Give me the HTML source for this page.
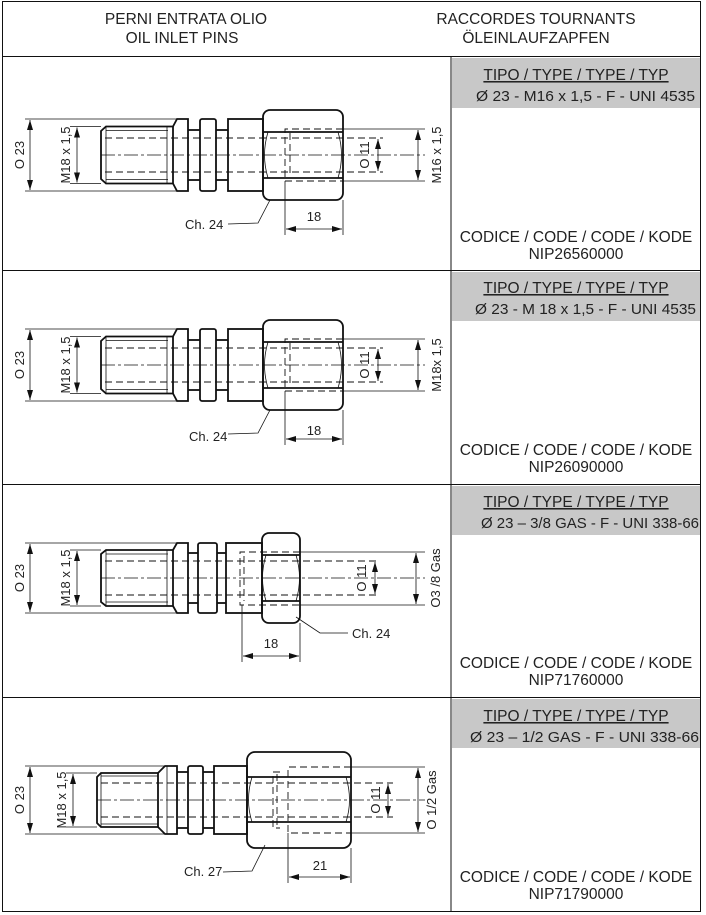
<!DOCTYPE html>
<html><head><meta charset="utf-8"><style>
html,body{margin:0;padding:0;background:#fff}
svg{display:block}
text{font-family:"Liberation Sans",Arial,sans-serif;fill:#222}
.k{stroke:#111;stroke-width:1.8;fill:none}
.t{stroke:#111;stroke-width:0.8;fill:none}
.d{stroke:#111;stroke-width:0.9;fill:none;stroke-dasharray:7 4}
.c{stroke:#111;stroke-width:0.8;fill:none;stroke-dasharray:14 3 3 3}
</style></head><body>
<svg width="706" height="915" viewBox="0 0 706 915" xmlns="http://www.w3.org/2000/svg">
<defs>
<marker id="a" viewBox="0 0 10 6" refX="10" refY="3" markerWidth="10" markerHeight="6" orient="auto-start-reverse" markerUnits="userSpaceOnUse">
<path d="M0,0 L10,3 L0,6 z" fill="#111"/></marker>
<g id="fa">
<line class="t" x1="25" y1="-36" x2="177" y2="-36"/><line class="t" x1="25" y1="36" x2="177" y2="36"/>
<line class="t" x1="70" y1="-28.5" x2="101" y2="-28.5"/><line class="t" x1="70" y1="28.5" x2="101" y2="28.5"/>
<line class="t" x1="30" y1="-35" x2="30" y2="35" marker-start="url(#a)" marker-end="url(#a)"/>
<line class="t" x1="77" y1="-27.5" x2="77" y2="27.5" marker-start="url(#a)" marker-end="url(#a)"/>
<path class="k" d="M106,-28.5 L173,-28.5 L173,28.5 L106,28.5 L101,24 L101,-24 Z"/>
<line class="t" x1="106" y1="-24.5" x2="168" y2="-24.5"/><line class="t" x1="106" y1="24.5" x2="168" y2="24.5"/>
<line class="t" x1="106" y1="-28" x2="106" y2="28"/><line class="t" x1="167" y1="-28" x2="167" y2="28"/>
<path class="k" d="M173,-28.5 L177,-36 L188,-36 L188,36 L177,36 L173,28.5"/>
<line class="k" x1="188" y1="-25" x2="200" y2="-25"/><line class="k" x1="188" y1="25" x2="200" y2="25"/>
<rect class="k" x="200" y="-36" width="16" height="72" rx="2"/>
<line class="k" x1="216" y1="-25" x2="228" y2="-25"/><line class="k" x1="216" y1="25" x2="228" y2="25"/>
<rect class="k" x="228" y="-36" width="35" height="72"/>
<rect class="k" x="263" y="-45" width="80" height="90" rx="7"/>
<path class="k" d="M263,-23 L343,-23 M263,23 L343,23"/>
<path class="t" d="M268,-23 Q261,0 268,23 M338,-23 Q345,0 338,23"/>
<path class="d" d="M343,-26 L285,-26 L285,26 L343,26 M290,-22 L290,22"/>
<line class="d" x1="105" y1="-17" x2="383" y2="-17"/><line class="d" x1="105" y1="17" x2="383" y2="17"/>
<line class="c" x1="101" y1="0" x2="425" y2="0"/>
<line class="t" x1="343" y1="-26" x2="425" y2="-26"/><line class="t" x1="343" y1="26" x2="425" y2="26"/>
<line class="t" x1="378" y1="-16" x2="378" y2="16" marker-start="url(#a)" marker-end="url(#a)"/>
<line class="t" x1="418" y1="-25" x2="418" y2="25" marker-start="url(#a)" marker-end="url(#a)"/>
<line class="t" x1="285" y1="26" x2="285" y2="80"/><line class="t" x1="343" y1="45" x2="343" y2="80"/>
<line class="t" x1="286" y1="74" x2="342" y2="74" marker-start="url(#a)" marker-end="url(#a)"/>
<path class="t" d="M228,69 L258,68 L270,45"/>
</g>
</defs>

<rect x="2.5" y="1.5" width="698" height="910" fill="none" stroke="#111" stroke-width="1"/>
<line x1="451" y1="56" x2="451" y2="912" stroke="#111"/>
<line x1="2" y1="56.5" x2="701" y2="56.5" stroke="#111"/>
<line x1="2" y1="270.5" x2="701" y2="270.5" stroke="#111"/>
<line x1="2" y1="484.5" x2="701" y2="484.5" stroke="#111"/>
<line x1="2" y1="697.5" x2="701" y2="697.5" stroke="#111"/>
<rect x="452" y="58" width="248" height="50" fill="#c8c8c8"/>
<rect x="452" y="272" width="248" height="49" fill="#c8c8c8"/>
<rect x="452" y="486" width="248" height="49" fill="#c8c8c8"/>
<rect x="452" y="699" width="248" height="49" fill="#c8c8c8"/>

<g font-size="15.5" text-anchor="middle">
<text x="186" y="24">PERNI ENTRATA OLIO</text><text x="182" y="43">OIL INLET PINS</text>
<text x="536" y="24">RACCORDES TOURNANTS</text><text x="536" y="43">ÖLEINLAUFZAPFEN</text>
</g>
<g font-size="15.5" text-anchor="middle">
<text x="576" y="80" text-decoration="underline">TIPO / TYPE / TYPE / TYP</text>
<text x="576" y="242">CODICE / CODE / CODE / KODE</text><text x="576" y="259">NIP26560000</text>
<text x="576" y="293" text-decoration="underline">TIPO / TYPE / TYPE / TYP</text>
<text x="576" y="455">CODICE / CODE / CODE / KODE</text><text x="576" y="472">NIP26090000</text>
<text x="576" y="507" text-decoration="underline">TIPO / TYPE / TYPE / TYP</text>
<text x="576" y="668">CODICE / CODE / CODE / KODE</text><text x="576" y="685">NIP71760000</text>
<text x="576" y="721" text-decoration="underline">TIPO / TYPE / TYPE / TYP</text>
<text x="576" y="882">CODICE / CODE / CODE / KODE</text><text x="576" y="899">NIP71790000</text>
</g>
<g font-size="15">
<text x="476" y="101" textLength="219" lengthAdjust="spacingAndGlyphs">Ø 23 - M16 x 1,5 - F - UNI 4535</text>
<text x="475" y="314" textLength="221" lengthAdjust="spacingAndGlyphs">Ø 23 - M 18 x 1,5 - F - UNI 4535</text>
<text x="481" y="528" textLength="218" lengthAdjust="spacingAndGlyphs">Ø 23 – 3/8 GAS - F - UNI 338-66</text>
<text x="470" y="742" textLength="229" lengthAdjust="spacingAndGlyphs">Ø 23 – 1/2  GAS - F - UNI 338-66</text>
</g>

<use href="#fa" transform="translate(0,155)"/>
<g font-size="13">
<text transform="translate(24,155) rotate(-90)" text-anchor="middle">O 23</text>
<text transform="translate(70,155) rotate(-90)" text-anchor="middle">M18 x 1,5</text>
<text transform="translate(369,155) rotate(-90)" text-anchor="middle">O 11</text>
<text transform="translate(441,155) rotate(-90)" text-anchor="middle">M16 x 1,5</text>
<text x="314" y="221" text-anchor="middle">18</text>
<text x="185" y="229">Ch. 24</text>
</g>
<use href="#fa" transform="translate(0,365)"/>
<g font-size="13">
<text transform="translate(24,365) rotate(-90)" text-anchor="middle">O 23</text>
<text transform="translate(70,365) rotate(-90)" text-anchor="middle">M18 x 1,5</text>
<text transform="translate(369,365) rotate(-90)" text-anchor="middle">O 11</text>
<text transform="translate(441,365) rotate(-90)" text-anchor="middle">M18x 1,5</text>
<text x="314" y="435" text-anchor="middle">18</text>
<text x="189" y="441">Ch. 24</text>
</g>

<g transform="translate(0,578)">
<line class="t" x1="25" y1="-35" x2="177" y2="-35"/><line class="t" x1="25" y1="35" x2="177" y2="35"/>
<line class="t" x1="70" y1="-28" x2="101" y2="-28"/><line class="t" x1="70" y1="28" x2="101" y2="28"/>
<line class="t" x1="30" y1="-34" x2="30" y2="34" marker-start="url(#a)" marker-end="url(#a)"/>
<line class="t" x1="77" y1="-27" x2="77" y2="27" marker-start="url(#a)" marker-end="url(#a)"/>
<path class="k" d="M106,-28 L173,-28 L173,28 L106,28 L101,24 L101,-24 Z"/>
<line class="t" x1="106" y1="-24" x2="168" y2="-24"/><line class="t" x1="106" y1="24" x2="168" y2="24"/>
<line class="t" x1="106" y1="-28" x2="106" y2="28"/><line class="t" x1="167" y1="-28" x2="167" y2="28"/>
<path class="k" d="M173,-28 L177,-35 L188,-35 L188,35 L177,35 L173,28"/>
<line class="k" x1="188" y1="-25" x2="198" y2="-25"/><line class="k" x1="188" y1="25" x2="198" y2="25"/>
<rect class="k" x="198" y="-35" width="19" height="70" rx="2"/>
<line class="k" x1="217" y1="-25" x2="226" y2="-25"/><line class="k" x1="217" y1="25" x2="226" y2="25"/>
<rect class="k" x="226" y="-35" width="36" height="70"/>
<rect class="k" x="262" y="-45" width="38" height="90" rx="7"/>
<path class="k" d="M262,-23 L300,-23 M262,23 L300,23"/>
<path class="t" d="M266,-23 Q259,0 266,23 M296,-23 Q303,0 296,23"/>
<path class="d" d="M300,-26 L240,-26 L240,27 L300,27 M244,-22 L244,23"/>
<line class="d" x1="105" y1="-17" x2="380" y2="-17"/><line class="d" x1="105" y1="17" x2="380" y2="17"/>
<line class="c" x1="101" y1="0" x2="425" y2="0"/>
<line class="t" x1="300" y1="-26" x2="425" y2="-26"/><line class="t" x1="300" y1="27" x2="425" y2="27"/>
<line class="t" x1="375" y1="-16" x2="375" y2="16" marker-start="url(#a)" marker-end="url(#a)"/>
<line class="t" x1="416" y1="-25" x2="416" y2="26" marker-start="url(#a)" marker-end="url(#a)"/>
<line class="t" x1="242" y1="27" x2="242" y2="84"/><line class="t" x1="300" y1="45" x2="300" y2="84"/>
<line class="t" x1="243" y1="78" x2="299" y2="78" marker-start="url(#a)" marker-end="url(#a)"/>
<path class="t" d="M296,39 L320,55 L348,55"/>
</g>
<g font-size="13">
<text transform="translate(24,578) rotate(-90)" text-anchor="middle">O 23</text>
<text transform="translate(70,578) rotate(-90)" text-anchor="middle">M18 x 1,5</text>
<text transform="translate(366,578) rotate(-90)" text-anchor="middle">O 11</text>
<text transform="translate(440,578) rotate(-90)" text-anchor="middle">O3 /8 Gas</text>
<text x="271" y="648" text-anchor="middle">18</text>
<text x="352" y="638">Ch. 24</text>
</g>

<g transform="translate(0,800)">
<line class="t" x1="25" y1="-34" x2="165" y2="-34"/><line class="t" x1="25" y1="34" x2="165" y2="34"/>
<line class="t" x1="66" y1="-27" x2="97" y2="-27"/><line class="t" x1="66" y1="27" x2="97" y2="27"/>
<line class="t" x1="30" y1="-33" x2="30" y2="33" marker-start="url(#a)" marker-end="url(#a)"/>
<line class="t" x1="73" y1="-26" x2="73" y2="26" marker-start="url(#a)" marker-end="url(#a)"/>
<path class="k" d="M101,-27 L158,-27 L158,27 L101,27 L97,23 L97,-23 Z"/>
<line class="t" x1="101" y1="-24" x2="158" y2="-24"/><line class="t" x1="101" y1="24" x2="158" y2="24"/>
<line class="t" x1="101" y1="-27" x2="101" y2="27"/>
<path class="k" d="M158,-27 L165,-34 L177,-34 L177,34 L165,34 L158,27"/>
<line class="t" x1="167" y1="-34" x2="167" y2="34"/>
<line class="k" x1="177" y1="-28" x2="188" y2="-28"/><line class="k" x1="177" y1="28" x2="188" y2="28"/>
<rect class="k" x="188" y="-34" width="15" height="68" rx="2"/>
<line class="k" x1="203" y1="-28" x2="214" y2="-28"/><line class="k" x1="203" y1="28" x2="214" y2="28"/>
<rect class="k" x="214" y="-34" width="33" height="68"/>
<rect class="k" x="247" y="-48" width="104" height="96" rx="8"/>
<path class="k" d="M247,-23 L351,-23 M247,22 L351,22"/>
<path class="t" d="M252,-23 Q245,0 252,22 M346,-23 Q353,0 346,22"/>
<path class="d" d="M351,-33 L288,-33 L288,33 L351,33"/>
<path class="d" d="M280,-28 L273,-28 L273,28 L280,28 M277,-26 L277,26"/>
<line class="d" x1="101" y1="-17" x2="393" y2="-17"/><line class="d" x1="101" y1="17" x2="393" y2="17"/>
<line class="c" x1="97" y1="0" x2="425" y2="0"/>
<line class="t" x1="351" y1="-33" x2="425" y2="-33"/><line class="t" x1="351" y1="33" x2="425" y2="33"/>
<line class="t" x1="388" y1="-16" x2="388" y2="16" marker-start="url(#a)" marker-end="url(#a)"/>
<line class="t" x1="418" y1="-32" x2="418" y2="32" marker-start="url(#a)" marker-end="url(#a)"/>
<line class="t" x1="288" y1="33" x2="288" y2="83"/><line class="t" x1="351" y1="48" x2="351" y2="83"/>
<line class="t" x1="289" y1="77" x2="350" y2="77" marker-start="url(#a)" marker-end="url(#a)"/>
<path class="t" d="M223,72 L252,71 L265,45"/>
</g>
<g font-size="13">
<text transform="translate(24,800) rotate(-90)" text-anchor="middle">O 23</text>
<text transform="translate(66,800) rotate(-90)" text-anchor="middle">M18 x 1,5</text>
<text transform="translate(380,800) rotate(-90)" text-anchor="middle">O 11</text>
<text transform="translate(436,800) rotate(-90)" text-anchor="middle">O 1/2 Gas</text>
<text x="320" y="870" text-anchor="middle">21</text>
<text x="184" y="876">Ch. 27</text>
</g>
</svg>
</body></html>
